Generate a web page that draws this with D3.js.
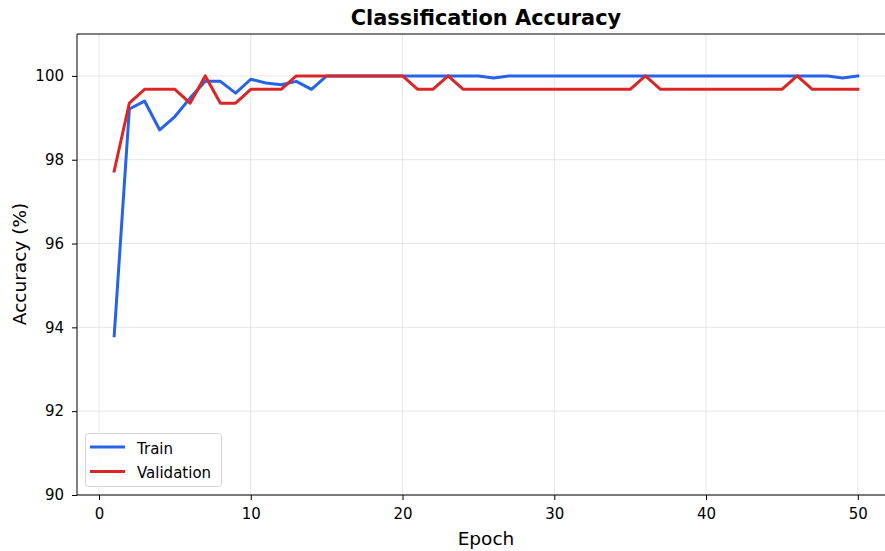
<!DOCTYPE html>
<html>
<head>
<meta charset="utf-8">
<script src="https://cdn.jsdelivr.net/npm/d3@7"></script>
<style>
  html, body { margin: 0; padding: 0; background: #fff; overflow: hidden; }
  svg { display: block; font-family: "DejaVu Sans", sans-serif; }
</style>
</head>
<body>
<svg id="chart" width="885" height="551"></svg>
<script>
// Training history per epoch
const epochs = d3.range(1, 51);
const trainAcc = [
  93.80, 99.21, 99.40, 98.71, 99.03, 99.47, 99.87, 99.87, 99.59, 99.92,
  99.83, 99.79, 99.87, 99.68, 100.0, 100.0, 100.0, 100.0, 100.0, 100.0,
  100.0, 100.0, 100.0, 100.0, 100.0, 99.95, 100.0, 100.0, 100.0, 100.0,
  100.0, 100.0, 100.0, 100.0, 100.0, 100.0, 100.0, 100.0, 100.0, 100.0,
  100.0, 100.0, 100.0, 100.0, 100.0, 100.0, 100.0, 100.0, 99.95, 100.0
];
const valAcc = [
  97.73, 99.35, 99.68, 99.68, 99.68, 99.35, 100.0, 99.35, 99.35, 99.68,
  99.68, 99.68, 100.0, 100.0, 100.0, 100.0, 100.0, 100.0, 100.0, 100.0,
  99.68, 99.68, 100.0, 99.68, 99.68, 99.68, 99.68, 99.68, 99.68, 99.68,
  99.68, 99.68, 99.68, 99.68, 99.68, 100.0, 99.68, 99.68, 99.68, 99.68,
  99.68, 99.68, 99.68, 99.68, 99.68, 100.0, 99.68, 99.68, 99.68, 99.68
];
const xTicks = [0, 10, 20, 30, 40, 50];
const yTicks = [90, 92, 94, 96, 98, 100];
const seriesNames = ["Train", "Validation"];
const seriesColors = ["#2563eb", "#dc2626"];

const svg = d3.select("#chart");
const plot = { left: 77, top: 34, right: 895, bottom: 495 };

const x = d3.scaleLinear().domain([-1.45, 52.45]).range([plot.left, plot.right]);
const y = d3.scaleLinear().domain([90, 101]).range([plot.bottom, plot.top]);

// grid
const grid = svg.append("g");
grid.selectAll("line.gx").data(xTicks).join("line")
  .attr("x1", d => x(d)).attr("x2", d => x(d))
  .attr("y1", plot.top).attr("y2", plot.bottom)
  .attr("stroke", "#b0b0b0").attr("stroke-opacity", 0.3).attr("stroke-width", 1);
grid.selectAll("line.gy").data(yTicks).join("line")
  .attr("x1", plot.left).attr("x2", plot.right)
  .attr("y1", d => y(d)).attr("y2", d => y(d))
  .attr("stroke", "#b0b0b0").attr("stroke-opacity", 0.3).attr("stroke-width", 1);

// lines
svg.append("clipPath").attr("id", "clip").append("rect")
  .attr("x", plot.left).attr("y", plot.top)
  .attr("width", plot.right - plot.left).attr("height", plot.bottom - plot.top);

const line = d3.line().x((d, i) => x(epochs[i])).y(d => y(d));
const series = [trainAcc, valAcc];
svg.append("g").attr("clip-path", "url(#clip)")
  .selectAll("path").data(series).join("path")
  .attr("d", d => line(d))
  .attr("fill", "none")
  .attr("stroke", (d, i) => seriesColors[i])
  .attr("stroke-width", 3)
  .attr("stroke-linejoin", "round")
  .attr("stroke-linecap", "square");

// axes
const xAxis = d3.axisBottom(x).tickValues(xTicks).tickSize(5).tickPadding(8);
const yAxis = d3.axisLeft(y).tickValues(yTicks).tickSize(5).tickPadding(8);

const gx = svg.append("g").attr("transform", `translate(0,${plot.bottom})`).call(xAxis);
const gy = svg.append("g").attr("transform", `translate(${plot.left},0)`).call(yAxis);
[gx, gy].forEach(g => {
  g.select(".domain").remove();
  g.selectAll(".tick line").attr("stroke", "#000").attr("stroke-width", 1);
  g.selectAll(".tick text").attr("fill", "#000")
    .style("font-family", "'DejaVu Sans', sans-serif").style("font-size", "15px");
});

// spines
svg.append("line").attr("x1", plot.left).attr("x2", plot.left)
  .attr("y1", plot.top).attr("y2", plot.bottom).attr("stroke", "#000").attr("stroke-width", 1);
svg.append("line").attr("x1", plot.left).attr("x2", plot.right)
  .attr("y1", plot.bottom).attr("y2", plot.bottom).attr("stroke", "#000").attr("stroke-width", 1);
svg.append("line").attr("x1", plot.left).attr("x2", plot.right)
  .attr("y1", plot.top).attr("y2", plot.top).attr("stroke", "#000").attr("stroke-width", 1);
svg.append("line").attr("x1", plot.right).attr("x2", plot.right)
  .attr("y1", plot.top).attr("y2", plot.bottom).attr("stroke", "#000").attr("stroke-width", 1);

// title and axis labels
svg.append("text").attr("x", 486).attr("y", 25)
  .attr("text-anchor", "middle").style("font-size", "20.9px").style("font-weight", "bold")
  .text("Classification Accuracy");
svg.append("text").attr("x", 486).attr("y", 545)
  .attr("text-anchor", "middle").style("font-size", "18.5px")
  .text("Epoch");
svg.append("text").attr("transform", "translate(26,264) rotate(-90)")
  .attr("text-anchor", "middle").style("font-size", "18.5px")
  .text("Accuracy (%)");

// legend
const lg = svg.append("g");
lg.append("rect").attr("x", 85.5).attr("y", 433.5).attr("width", 136).attr("height", 53)
  .attr("rx", 3).attr("fill", "#fff").attr("fill-opacity", 0.8)
  .attr("stroke", "#d6d6d6").attr("stroke-width", 1);
seriesNames.forEach((name, i) => {
  const yy = 447 + i * 24.5;
  lg.append("line").attr("x1", 90).attr("x2", 125).attr("y1", yy).attr("y2", yy)
    .attr("stroke", seriesColors[i]).attr("stroke-width", 3);
  lg.append("text").attr("x", 137).attr("y", yy + 6.5)
    .style("font-size", "15px").text(name);
});
</script>
</body>
</html>
